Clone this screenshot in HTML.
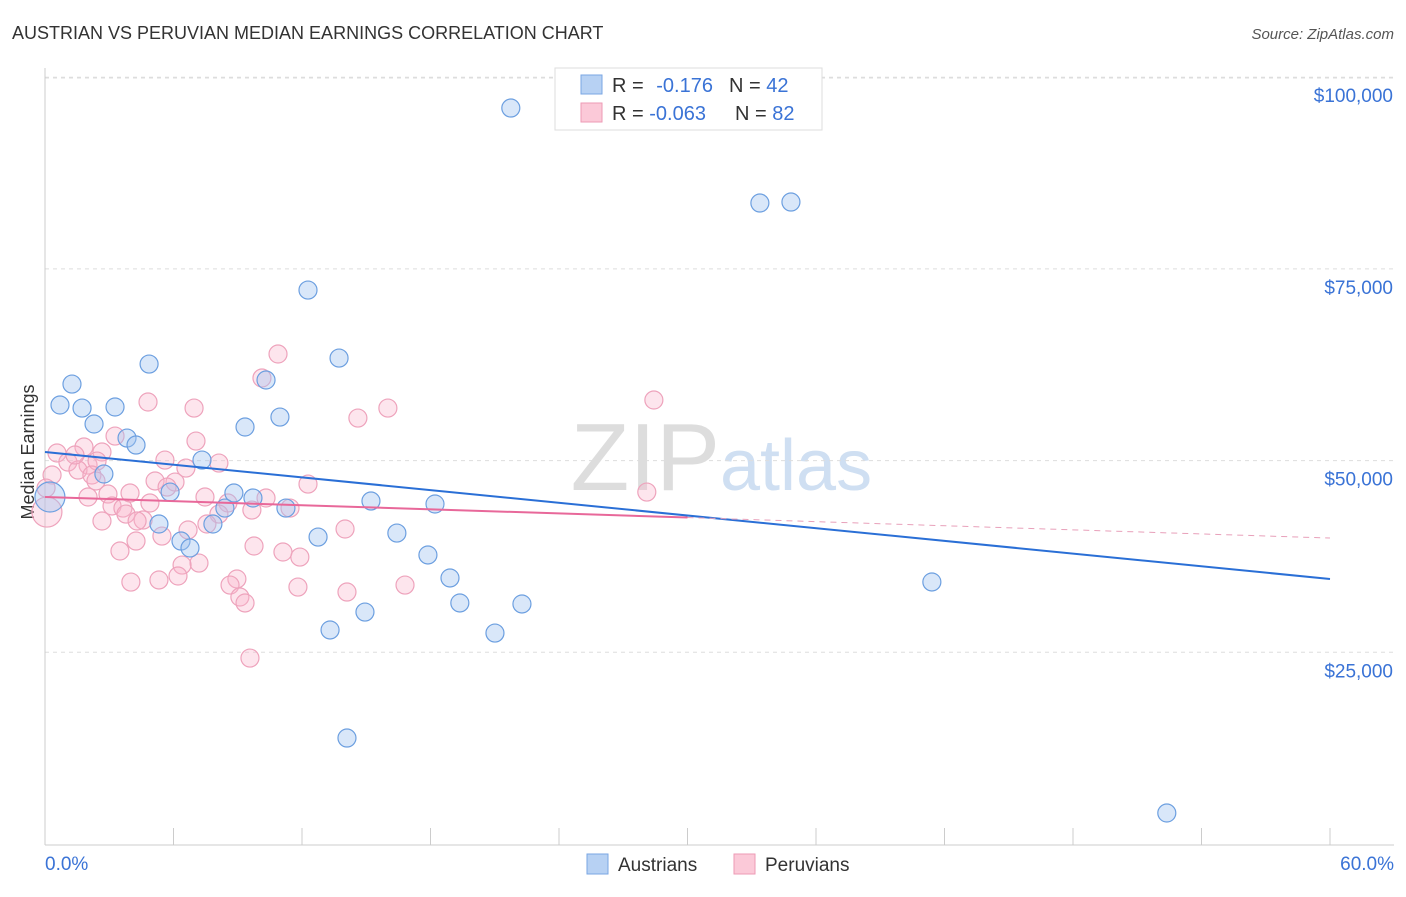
<!DOCTYPE html>
<html><head><meta charset="utf-8"><style>
body{margin:0;background:#fff;font-family:"Liberation Sans",sans-serif;}
svg text{font-family:"Liberation Sans",sans-serif;}
</style></head><body>
<svg id="c" width="1406" height="892" xmlns="http://www.w3.org/2000/svg">
<text x="12" y="39" font-size="18" fill="#333">AUSTRIAN VS PERUVIAN MEDIAN EARNINGS CORRELATION CHART</text>
<text x="1394" y="39" font-size="15" fill="#555" font-style="italic" text-anchor="end">Source: ZipAtlas.com</text>
<text x="40" y="458" font-size="18" fill="#333" text-anchor="middle" transform="rotate(-90 34 458)">Median Earnings</text>
<text x="720" y="490" font-size="96" fill="#ddd" text-anchor="end" font-family="Liberation Serif">ZIP</text>
<text x="720" y="490" font-size="72" fill="#cfdff2">atlas</text>
<g id="grid"></g><g id="axes"></g><g id="pts"></g><g id="lines"></g>
<g>
<rect x="555" y="68" width="267" height="62" fill="#fff" stroke="#ddd"/>
<rect x="581" y="75" width="21" height="19" fill="#b7d1f3" stroke="#7aa6e3"/>
<rect x="581" y="103" width="21" height="19" fill="#fbc9d8" stroke="#ee9ab5"/>
<text x="612" y="92" font-size="20" fill="#333">R = <tspan fill="#3a73d6" dx="7">-0.176</tspan><tspan dx="16">N = </tspan><tspan fill="#3a73d6">42</tspan></text>
<text x="612" y="120" font-size="20" fill="#333">R = <tspan fill="#3a73d6">-0.063</tspan><tspan dx="29">N = </tspan><tspan fill="#3a73d6">82</tspan></text>
</g>
<g>
<rect x="587" y="854" width="21" height="20" fill="#b7d1f3" stroke="#7aa6e3"/>
<text x="618" y="871" font-size="19" fill="#333">Austrians</text>
<rect x="734" y="854" width="21" height="20" fill="#fbc9d8" stroke="#ee9ab5"/>
<text x="765" y="871" font-size="19" fill="#333">Peruvians</text>
</g>
</svg>
<script>
const blueX=[21.75,33.38,34.83,12.28,13.73,4.86,1.26,10.32,0.70,1.73,3.27,10.97,2.29,9.34,3.83,4.25,7.33,2.75,5.84,8.82,9.71,11.25,15.22,18.21,5.32,7.84,8.40,12.75,16.43,6.35,6.77,17.88,18.91,41.41,19.37,22.27,14.94,13.31,21.01,14.10,52.38,0.23];
const blueY=[95980,83590,83720,72240,63370,62590,59980,60510,57250,56850,56990,55680,54770,54380,52940,52030,50070,48250,45900,45770,45120,43810,44730,44340,41730,41730,43810,40030,40550,39510,38600,37690,34690,34170,31430,31300,30250,27910,27510,13820,4040,45250];
const blueR=[9,9,9,9,9,9,9,9,9,9,9,9,9,9,9,9,9,9,9,9,9,9,9,9,9,9,9,9,9,9,9,9,9,9,9,9,9,9,9,9,9,15];
const pinkX=[10.88,10.13,4.81,6.96,28.43,16.01,14.61,3.27,7.05,1.82,0.56,2.66,1.07,2.01,2.43,8.12,6.58,1.54,2.19,0.33,2.38,5.14,6.07,5.70,12.28,0.05,28.10,7.47,2.94,2.01,10.32,4.90,8.54,11.44,3.13,3.64,3.78,8.12,9.66,2.66,4.58,4.30,7.56,6.68,14.01,5.46,4.25,9.76,3.50,11.11,11.90,7.19,6.40,6.21,8.96,4.01,5.32,8.64,11.81,16.81,14.10,9.10,9.34,9.57,0.09,3.97,1.40,5.60];
const pinkY=[63900,60770,57640,56850,57900,56850,55550,53200,52550,51770,50990,51120,49810,49420,49940,49680,49030,48770,48120,48120,47340,47340,47200,46550,46940,46420,45900,45250,45640,45250,45120,44470,44470,43810,44080,43810,43030,43030,43550,42120,42250,42120,41730,40950,41080,40160,39510,38860,38210,38080,37420,36640,36380,34950,34560,34160,34430,33770,33510,33770,32860,32210,31430,24250,43290,45770,50730,50070];
const yTicks=[25000,50000,75000,100000];
const yTickLabels=["$25,000","$50,000","$75,000","$100,000"];
const xTicks=[0,6,12,18,24,30,36,42,48,54,60];
const xEndLabels=["0.0%","60.0%"];
const blueTrend=[51120,34560];
const pinkTrend=[45250,39900];
const pinkSolidEnd=30;

const NS="http://www.w3.org/2000/svg";
const X=v=>45+v*(1285/60);
const Y=v=>844-v*(191.7/25000);
function mk(tag,attrs,parent){const e=document.createElementNS(NS,tag);for(const k in attrs)e.setAttribute(k,attrs[k]);document.getElementById(parent).appendChild(e);return e;}
yTicks.forEach((t,i)=>{
 const g=mk('line',{x1:45,x2:1394,y1:Y(t),y2:Y(t),stroke:'#ddd','stroke-dasharray':'4,4'},'grid');
 
 
 const l=mk('text',{x:1393,y:Y(t)+25,'font-size':19,fill:'#3a73d6','text-anchor':'end'},'axes');
 l.textContent=yTickLabels[i];
 
 
});
const topLine=mk('line',{x1:45,x2:1394,y1:78,y2:78,stroke:'#ddd','stroke-dasharray':'4,4'},'grid');


const ya=mk('line',{x1:45,x2:45,y1:68,y2:845,stroke:'#ccc'},'axes');


const xa=mk('line',{x1:45,x2:1394,y1:845,y2:845,stroke:'#ccc'},'axes');


xTicks.forEach(t=>{
 const k=mk('line',{x1:X(t),x2:X(t),y1:828,y2:845,stroke:'#ccc'},'axes');
 
 
});
const xl0=mk('text',{x:45,y:870,'font-size':19,fill:'#3a73d6'},'axes');xl0.textContent=xEndLabels[0];


const xl1=mk('text',{x:1394,y:870,'font-size':19,fill:'#3a73d6','text-anchor':'end'},'axes');xl1.textContent=xEndLabels[1];


pinkX.forEach((v,i)=>{
 const c=mk('circle',{cx:X(v),cy:Y(pinkY[i]),r:i==64?15:9,fill:'rgba(248,180,202,0.35)',stroke:'#eea3bc','stroke-width':1.2},'pts');
 
 
});
blueX.forEach((v,i)=>{
 const c=mk('circle',{cx:X(v),cy:Y(blueY[i]),r:blueR[i],fill:'rgba(160,195,240,0.4)',stroke:'#6c9fe0','stroke-width':1.2},'pts');
 
 
});
const bl=mk('line',{x1:X(0),y1:Y(blueTrend[0]),x2:X(60),y2:Y(blueTrend[1]),stroke:'#2a6fd6','stroke-width':2},'lines');


const pAt=x=>pinkTrend[0]+(pinkTrend[1]-pinkTrend[0])*x/60;
const pl=mk('line',{x1:X(0),y1:Y(pinkTrend[0]),x2:X(pinkSolidEnd),y2:Y(pAt(pinkSolidEnd)),stroke:'#e8689a','stroke-width':2},'lines');


const pd=mk('line',{x1:X(pinkSolidEnd),y1:Y(pAt(pinkSolidEnd)),x2:X(60),y2:Y(pinkTrend[1]),stroke:'#e8a0ba','stroke-width':1,'stroke-dasharray':'6,5'},'lines');


</script>
</body></html>
